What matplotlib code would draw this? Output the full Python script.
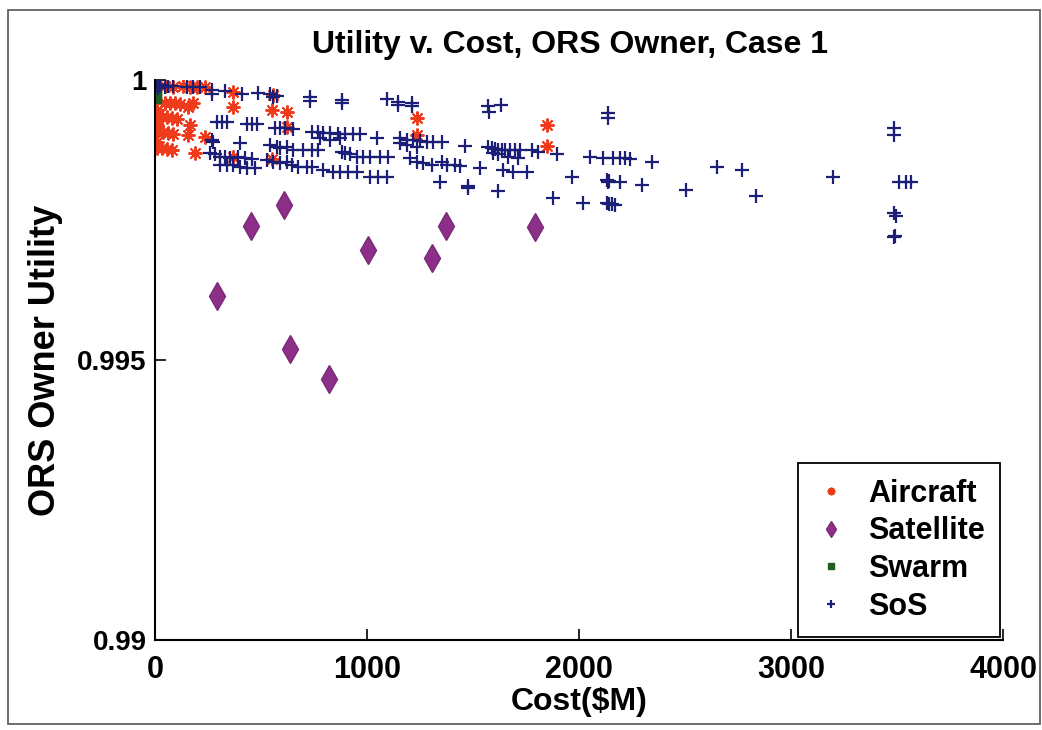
import matplotlib
matplotlib.use("Agg")
from matplotlib import pyplot as plt
from matplotlib.patches import Rectangle

# cost in $M, utility for the ORS owner
aircraft_cost = [47, 85, 132, 165, 198, 236, 368, 556,
                 47, 71, 94, 118, 156, 179, 368, 551, 622, 1235,
                 9, 33, 57, 80, 104, 165, 622,
                 9, 38, 61, 85, 156, 236, 1235,
                 9, 33, 57, 80, 189, 368, 551,
                 9, 9, 9, 1847, 1847]
aircraft_util = [0.99989, 0.99988, 0.99989, 0.99988, 0.99988, 0.99988, 0.99979, 0.99973,
                 0.99959, 0.99959, 0.99959, 0.99957, 0.99952, 0.99959, 0.99952, 0.99947, 0.99943, 0.99932,
                 0.99934, 0.99934, 0.99934, 0.99932, 0.99931, 0.99920, 0.99916,
                 0.99907, 0.99907, 0.99906, 0.99904, 0.99902, 0.99899, 0.99902,
                 0.99879, 0.99879, 0.99877, 0.99875, 0.99870, 0.99863, 0.99859,
                 0.99947, 0.99920, 0.99890, 0.99920, 0.99883]

satellite_cost = [292, 452, 608, 636, 820, 1004, 1305, 1371, 1791]
satellite_util = [0.99614, 0.99740, 0.99776, 0.99520, 0.99466, 0.99696, 0.99683, 0.99740, 0.99738]

swarm_cost = [5, 5, 5]
swarm_util = [0.99986, 0.99977, 0.99968]

sos_cost = [9, 14, 24, 47, 61, 85, 151, 179, 212,
            269, 269, 330, 410, 485, 542, 556, 575, 731, 731, 881, 881, 1093,
            1145, 1145, 1211, 1211, 1569, 1574, 1631, 2135, 2135,
            292, 316, 339, 434, 457, 481, 566, 589, 613, 650,
            740, 768, 792, 825, 862, 895, 933, 966, 778, 825, 872, 1046,
            1155, 1188, 1216, 1249, 1282, 1310, 1353, 1155, 1188, 1235, 1461,
            269, 273, 401, 542, 575, 589, 622, 650, 698, 740, 768,
            881, 895, 919, 952, 980, 1013, 1060, 1098,
            1202, 1235, 1263, 1305, 1353, 1376, 1414, 1437, 1343, 1475,
            259, 283, 306, 330, 353, 306, 339, 368, 401, 434, 471, 391, 424, 457,
            528, 556, 589, 622, 646, 674, 716, 740, 792, 839, 872, 910, 952,
            1013, 1051, 1093,
            1569, 1588, 1602, 1617, 1635, 1650, 1673, 1697, 1720, 1777, 1805,
            1593, 1617, 1664, 1711, 1895, 2050, 2111, 2159, 2192, 2215, 2239,
            2342, 2653, 2771, 1532, 1640, 1687, 1753, 1965, 2130, 2135, 2140, 2192,
            2295, 1475, 1617, 2507, 2837, 1876, 2017, 2130, 2140, 2154, 2168, 3200,
            3488, 3488, 3511, 3544, 3568, 3488, 3497, 3488, 3492]
sos_util = [0.99991, 0.99986, 0.99991, 0.99988, 0.99989, 0.99989, 0.99988, 0.99988, 0.99988,
            0.99982, 0.99975, 0.99980, 0.99975, 0.99977, 0.99975, 0.99970, 0.99972, 0.99970, 0.99963, 0.99964, 0.99959, 0.99966,
            0.99961, 0.99956, 0.99959, 0.99954, 0.99954, 0.99943, 0.99956, 0.99941, 0.99932,
            0.99925, 0.99925, 0.99925, 0.99922, 0.99922, 0.99922, 0.99915, 0.99915, 0.99915, 0.99913,
            0.99907, 0.99907, 0.99906, 0.99906, 0.99904, 0.99904, 0.99904, 0.99904, 0.99897, 0.99893, 0.99897, 0.99897,
            0.99897, 0.99893, 0.99893, 0.99891, 0.99890, 0.99890, 0.99890, 0.99888, 0.99884, 0.99881, 0.99883,
            0.99893, 0.99890, 0.99888, 0.99884, 0.99881, 0.99879, 0.99881, 0.99875, 0.99875, 0.99875, 0.99875,
            0.99872, 0.99870, 0.99867, 0.99863, 0.99863, 0.99863, 0.99863, 0.99863,
            0.99861, 0.99854, 0.99852, 0.99849, 0.99854, 0.99849, 0.99849, 0.99847, 0.99817, 0.99808,
            0.99870, 0.99867, 0.99863, 0.99863, 0.99861, 0.99849, 0.99849, 0.99849, 0.99845, 0.99843, 0.99843, 0.99863, 0.99861, 0.99859,
            0.99858, 0.99854, 0.99852, 0.99854, 0.99849, 0.99845, 0.99845, 0.99845, 0.99840, 0.99836, 0.99836, 0.99835, 0.99835,
            0.99827, 0.99827, 0.99827,
            0.99881, 0.99879, 0.99877, 0.99875, 0.99875, 0.99875, 0.99875, 0.99875, 0.99875, 0.99875, 0.99872,
            0.99870, 0.99867, 0.99863, 0.99861, 0.99868, 0.99863, 0.99861, 0.99861, 0.99861, 0.99861, 0.99859,
            0.99854, 0.99845, 0.99840, 0.99843, 0.99840, 0.99836, 0.99835, 0.99826, 0.99822, 0.99817, 0.99819, 0.99817,
            0.99813, 0.99810, 0.99801, 0.99804, 0.99792, 0.99790, 0.99781, 0.99781, 0.99779, 0.99778, 0.99776, 0.99826,
            0.99915, 0.99902, 0.99817, 0.99817, 0.99817, 0.99763, 0.99758, 0.99719, 0.99722]

x_ticks = [0, 1000, 2000, 3000, 4000]
y_ticks = [0.99, 0.995, 1.0]
y_tick_labels = ["0.99", "0.995", "1"]

narrow = ["Liberation Sans Narrow", "Liberation Sans", "DejaVu Sans"]
wide = ["Liberation Sans", "DejaVu Sans"]

fig = plt.figure(figsize=(10.42, 7.30), dpi=100)
fig.patches.append(Rectangle((8 / 1042, 6 / 730), 1032 / 1042, 714 / 730,
                             transform=fig.transFigure, fill=False,
                             edgecolor="#555555", linewidth=1.2))

ax = fig.add_axes([155 / 1042, 90 / 730, 848 / 1042, 560 / 730])

ax.plot(aircraft_cost, aircraft_util, linestyle="none", marker=(8, 2, 0),
        markersize=10, markeredgewidth=1.4, color="#f03a1c", label="Aircraft")
ax.plot(satellite_cost, satellite_util, linestyle="none", marker="d",
        markersize=14, color="#8c2f88", markeredgecolor="#7a2a78", label="Satellite")
ax.plot(swarm_cost, swarm_util, linestyle="none", marker="s",
        markersize=7, color="#1f5f22", label="Swarm")
ax.plot(sos_cost, sos_util, linestyle="none", marker="+",
        markersize=10.5, markeredgewidth=1.6, color="#1b1f78", label="SoS")

ax.set_xlim(0, 4000)
ax.set_ylim(0.99, 1.0)
ax.set_xticks(x_ticks)
ax.set_xticklabels([str(t) for t in x_ticks], family=narrow, weight="bold", fontsize=22)
ax.set_yticks(y_ticks)
ax.set_yticklabels(y_tick_labels, family=wide, weight="bold", fontsize=20)
ax.tick_params(direction="in", length=8, width=1.2, pad=6)
ax.tick_params(axis="x", pad=11)

for side in ["top", "right"]:
    ax.spines[side].set_visible(False)
for side in ["left", "bottom"]:
    ax.spines[side].set_linewidth(1.5)

ax.set_xlabel("Cost($M)", family=narrow, weight="bold", fontsize=23, labelpad=1)
ax.set_ylabel("ORS Owner Utility", family=wide, weight="bold", fontsize=26, labelpad=10)
fig.text(570 / 1042, 1 - 45 / 730, "Utility v. Cost, ORS Owner, Case 1",
         family=narrow, weight="bold", fontsize=23, ha="center", va="center")

leg = ax.legend(loc="lower right", bbox_to_anchor=(1.0, 0.0), markerscale=0.55,
                prop={"family": wide, "weight": "bold", "size": 22},
                fancybox=False, framealpha=1, edgecolor="black",
                handlelength=1.2, handletextpad=0.6, labelspacing=0.25,
                borderpad=0.5, borderaxespad=0.1)
leg.get_frame().set_linewidth(1.3)

fig.savefig("out.png", dpi=100)
